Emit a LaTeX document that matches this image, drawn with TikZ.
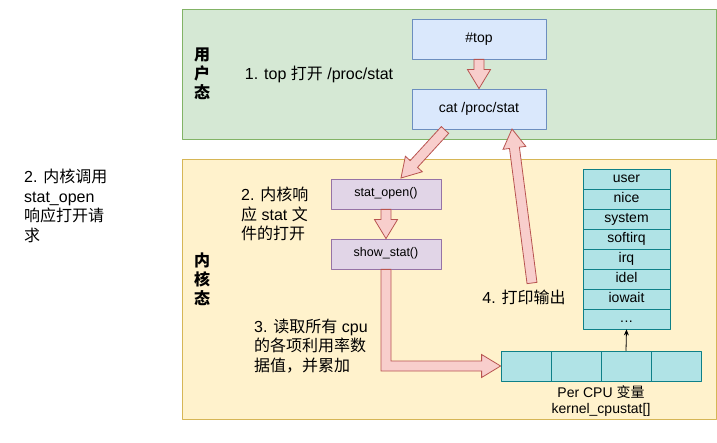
\documentclass[tikz,border=0pt]{standalone}
\usepackage{fontspec}
\setmainfont{Liberation Sans}
\newfontfamily\cjk{Noto Sans CJK SC}
\newcommand{\zh}[1]{{\cjk #1}}
\newcommand{\more}{.\kern0.5pt.\kern0.5pt.}
\usepackage{tikz}
\usetikzlibrary{arrows.meta}
\usetikzlibrary{calc}
\usetikzlibrary{positioning}
\definecolor{userfill}{HTML}{D5E8D4}
\definecolor{userline}{HTML}{82B366}
\definecolor{kernfill}{HTML}{FFF2CC}
\definecolor{kernline}{HTML}{D6B656}
\definecolor{procfill}{HTML}{DAE8FC}
\definecolor{procline}{HTML}{6C8EBF}
\definecolor{funcfill}{HTML}{E1D5E7}
\definecolor{funcline}{HTML}{9673A6}
\definecolor{statfill}{HTML}{B0E3E6}
\definecolor{statline}{HTML}{0E8088}
\definecolor{arrowfill}{HTML}{F8CECC}
\definecolor{arrowline}{HTML}{B85450}
\tikzset{
  txt/.style={font=\fontsize{16}{19.5}\selectfont, align=left, inner sep=0pt},
  procbox/.style={draw=procline, fill=procfill, line width=0.8pt, minimum width=134pt, minimum height=40pt, text height=10pt, text depth=3pt, font=\fontsize{14}{16}\selectfont},
  funcbox/.style={draw=funcline, fill=funcfill, line width=0.8pt, minimum width=110pt, minimum height=30pt, text height=9pt, text depth=3pt, font=\fontsize{12.5}{14}\selectfont},
  statcell/.style={draw=statline, fill=statfill, line width=0.8pt, minimum width=87pt, minimum height=20pt, inner sep=0pt, text height=10pt, text depth=3pt, font=\fontsize{14}{16}\selectfont},
  cpucell/.style={draw=statline, fill=statfill, line width=0.8pt, minimum width=50pt, minimum height=30pt, inner sep=0pt},
  flexarrow/.style={draw=arrowline, fill=arrowfill, line width=0.8pt, line join=miter}
}
% block arrow from #1 to #2
\newcommand{\flexarrow}[2]{%
  \coordinate (hb) at ($(#2)!19pt!(#1)$);
  \draw[flexarrow] ($(#1)!5pt!90:(#2)$) -- ($(hb)!5pt!90:(#2)$) -- ($(hb)!11.5pt!90:(#2)$)
    -- (#2) -- ($(hb)!11.5pt!-90:(#2)$) -- ($(hb)!5pt!-90:(#2)$) -- ($(#1)!5pt!-90:(#2)$) -- cycle;
}

\begin{document}
\begin{tikzpicture}[line cap=round,line join=round,x=1pt,y=-1pt]
\useasboundingbox (0,0) rectangle (717,443);
% user space and kernel space
\draw [draw=userline, fill=userfill, line width=0.8pt] (182,9) rectangle (716.5,139);
\draw [draw=kernline, fill=kernfill, line width=0.8pt] (182,159) rectangle (716.5,419);
\node [txt, align=center, font=\fontsize{16}{19}\selectfont\cjk\bfseries] (user) at (202,74) {用\\户\\态};
\node [txt, align=center, font=\fontsize{16}{19}\selectfont\cjk\bfseries] (kern) at (202,279) {内\\核\\态};
% boxes
\node [procbox] (top) at (479,39) {\#top};
\node [procbox] (cat) at (479,109) {cat /proc/stat};
\node [funcbox] (open) at (386,194) {stat\_open()};
\node [funcbox] (show) at (386,254) {show\_stat()};
\foreach \t [count=\i] in {user,nice,system,softirq,irq,idel,iowait,\more}
  \node [statcell] (row\i) at (626.5,159+20*\i) {\t};
\foreach \i in {1,2,3,4}
  \node [cpucell] (cpu\i) at (476+50*\i,366) {};
% labels
\node [txt] (step1) at (319,74) {1. top \zh{打开} /proc/stat};
\node [txt, anchor=west] (note) at (24,206) {2. \zh{内核调用}\\stat\_open\\\zh{响应打开请}\\\zh{求}};
\node [txt, anchor=west] (step2) at (241,214) {2. \zh{内核响}\\\zh{应} stat \zh{文}\\\zh{件的打开}};
\node [txt, anchor=west] (step3) at (254,346) {3. \zh{读取所有} cpu\\\zh{的各项利用率数}\\\zh{据值，并累加}};
\node [txt] (step4) at (524,297) {4. \zh{打印输出}};
\node [txt, align=center, font=\fontsize{14}{16}\selectfont] (percpu) at (601,401) {Per CPU \zh{变量}\\kernel\_cpustat[]};
% arrows
\coordinate (catout) at (445,130);
\coordinate (openin) at (401,178);
\coordinate (printout) at (532,283);
\coordinate (catin) at (512,129);
\coordinate (bend) at (show.south |- cpu1.west);
\flexarrow{top.south}{cat.north}
\flexarrow{open.south}{show.north}
\flexarrow{catout}{openin}
\flexarrow{printout}{catin}
\draw [flexarrow] ($(show.south)+(-5,0)$) -- ($(bend)+(-5,5)$) -- ($(cpu1.west)+(-19,5)$)
  -- ($(cpu1.west)+(-19,11.5)$) -- (cpu1.west) -- ($(cpu1.west)+(-19,-11.5)$)
  -- ($(cpu1.west)+(-19,-5)$) -- ($(bend)+(5,-5)$) -- ($(show.south)+(5,0)$) -- cycle;
\draw [-{Stealth[length=6pt,width=5pt]}, line width=0.8pt] (cpu3.north) -- (row8.south);
\end{tikzpicture}
\end{document}
